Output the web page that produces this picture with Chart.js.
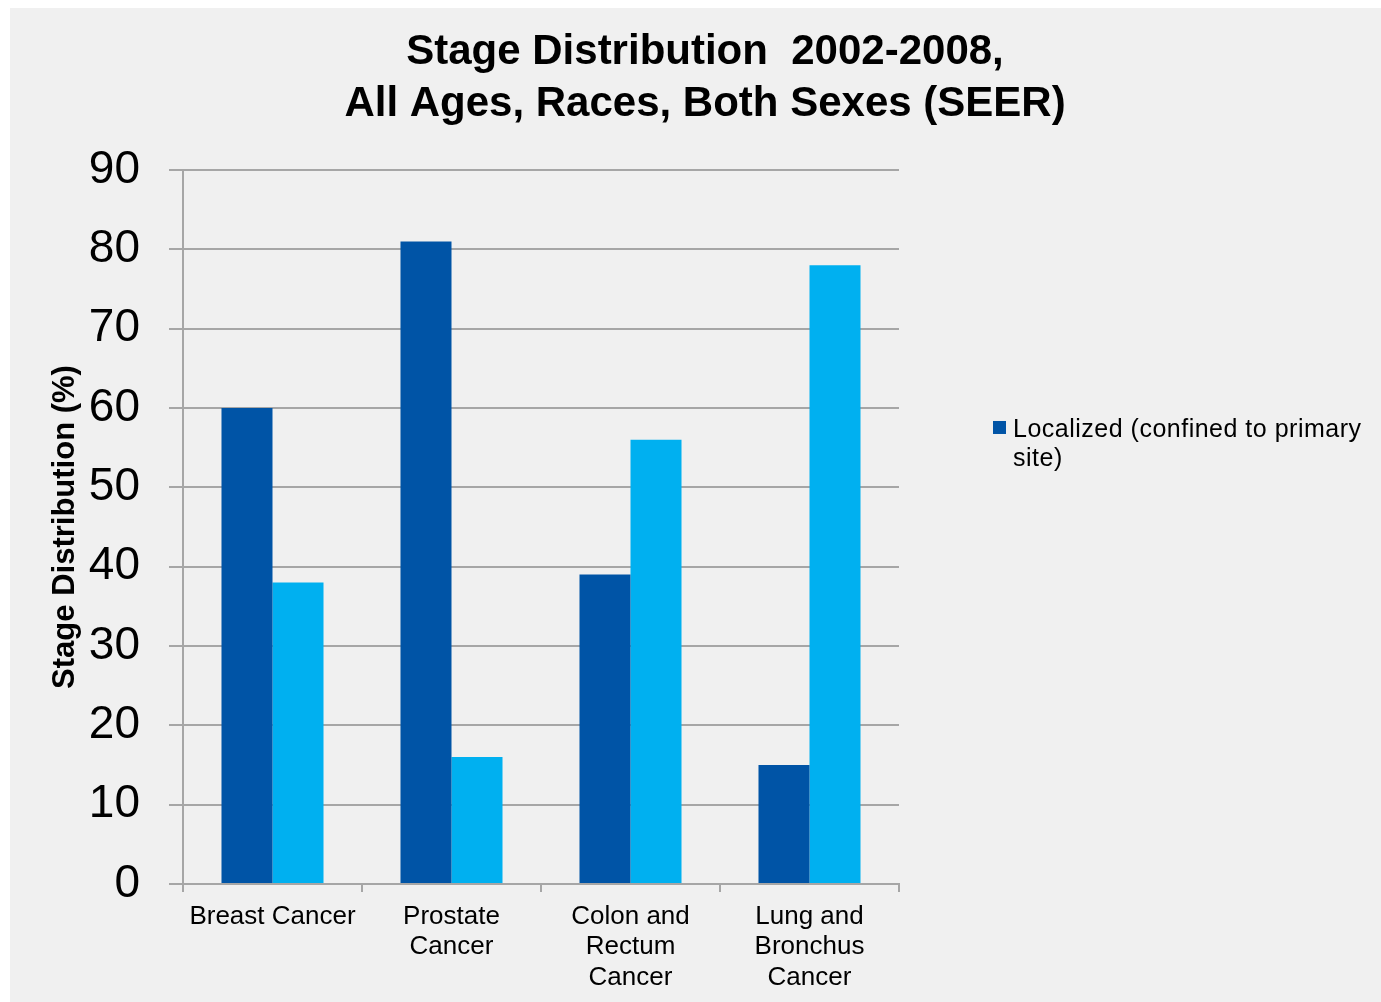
<!DOCTYPE html>
<html>
<head>
<meta charset="utf-8">
<script src="https://cdn.jsdelivr.net/npm/chart.js@4"></script>
<style>
	html, body { margin: 0; padding: 0; background: #ffffff; }
	#wrap { width: 1381px; height: 1002px; }
</style>
</head>
<body>
<div id="wrap"><canvas id="canvaStage" width="1381" height="1002"></canvas></div>
<script>
let categorias = ["Breast Cancer", ["Prostate", "Cancer"], ["Colon and", "Rectum", "Cancer"], ["Lung and", "Bronchus", "Cancer"]];
let nombresSerie = ["Localized (confined to primary site)", "Distant (metastasized)"];
let localizado = [60, 81, 39, 15];
let distante = [38, 16, 56, 78];
let ticksY = [0, 10, 20, 30, 40, 50, 60, 70, 80, 90];
let titulo = ["Stage Distribution  2002-2008,", "All Ages, Races, Both Sexes (SEER)"];
let tituloY = "Stage Distribution (%)";

let azulOscuro = "#0054a6";
let azulClaro = "#00b0f0";
let gris = "#a6a6a6";
let fuente = "'Liberation Sans', Arial, sans-serif";

// fondo blanco con el panel gris
const fondo = {
	id: "fondo",
	beforeDraw(chart) {
		let ctx = chart.ctx;
		ctx.save();
		ctx.fillStyle = "#ffffff";
		ctx.fillRect(0, 0, chart.width, chart.height);
		ctx.fillStyle = "#f0f0f0";
		ctx.fillRect(10, 8, chart.width - 10, chart.height - 8);
		ctx.restore();
	}
};

// leyenda a la derecha, solo la primera serie, con el texto partido en lineas
const leyenda = {
	id: "leyenda",
	afterDraw(chart) {
		let ctx = chart.ctx;
		let area = chart.chartArea;
		let x = area.right + 94;
		let y = area.top + 251;
		let ds = chart.data.datasets[0];
		ctx.save();
		ctx.fillStyle = ds.backgroundColor;
		ctx.fillRect(x, y, 13, 13);
		ctx.font = "25px " + fuente;
		ctx.letterSpacing = "0.5px";
		ctx.fillStyle = "#000000";
		ctx.textBaseline = "alphabetic";
		let palabras = ds.label.split(" ");
		let lineas = [];
		let actual = "";
		for (let p of palabras) {
			let prueba = actual ? actual + " " + p : p;
			if (ctx.measureText(prueba).width > 362 && actual) {
				lineas.push(actual);
				actual = p;
			} else {
				actual = prueba;
			}
		}
		lineas.push(actual);
		lineas.forEach((l, i) => ctx.fillText(l, x + 20, y + 16 + i * 29));
		ctx.restore();
	}
};

const ctx = document.getElementById("canvaStage");
const canvaStage = new Chart(ctx, {
	type: "bar",
	data: {
		labels: categorias,
		datasets: [
			{ label: nombresSerie[0], data: localizado, backgroundColor: azulOscuro },
			{ label: nombresSerie[1], data: distante, backgroundColor: azulClaro }
		]
	},
	options: {
		responsive: false,
		animation: false,
		devicePixelRatio: 1,
		layout: { padding: { left: 43, right: 14, top: 0, bottom: 0 } },
		datasets: { bar: { barPercentage: 1, categoryPercentage: 0.57 } },
		plugins: {
			legend: { display: false },
			tooltip: { enabled: false },
			title: {
				display: true,
				text: titulo,
				color: "#000000",
				font: { family: fuente, size: 42, weight: "bold", lineHeight: 1.226 },
				padding: { top: 27, bottom: 40 }
			}
		},
		scales: {
			x: {
				offset: true,
				grid: { offset: true, drawOnChartArea: false, color: gris, lineWidth: 2, tickLength: 8 },
				border: { color: gris, width: 2 },
				ticks: {
					color: "#000000",
					font: { family: fuente, size: 26, lineHeight: 1.18 },
					padding: 9,
					maxRotation: 0,
					autoSkip: false
				},
				afterFit(s) { s.height = 1002 - 884; }
			},
			y: {
				min: 0,
				max: 90,
				afterBuildTicks(s) { s.ticks = ticksY.map(v => ({ value: v })); },
				grid: { color: gris, lineWidth: 2, tickLength: 14 },
				border: { color: gris, width: 2 },
				ticks: {
					color: "#000000",
					font: { family: fuente, size: 46 },
					padding: 29
				},
				title: {
					display: true,
					text: tituloY,
					color: "#000000",
					font: { family: fuente, size: 31, weight: "bold" },
					padding: { top: 4, bottom: 4 }
				},
				afterFit(s) { s.width = 140; }
			},
			// eje vacio para reservar el hueco de la leyenda
			yLeyenda: {
				position: "right",
				display: true,
				grid: { display: false },
				border: { display: false },
				ticks: { display: false },
				afterFit(s) { s.width = 1381 - 14 - 899; }
			}
		}
	},
	plugins: [fondo, leyenda]
});
</script>
</body>
</html>
